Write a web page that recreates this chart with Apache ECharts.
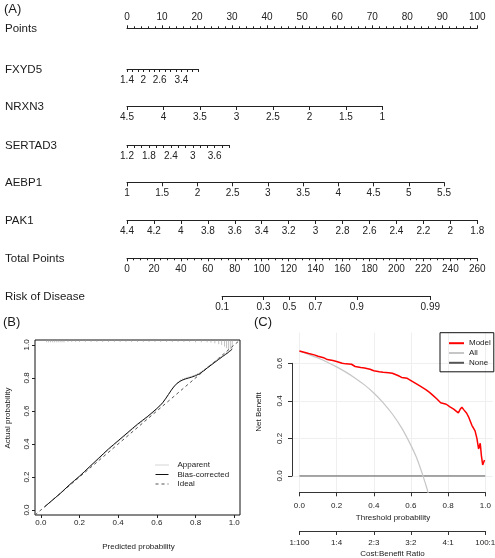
<!DOCTYPE html>
<html><head><meta charset="utf-8">
<script src="https://cdn.jsdelivr.net/npm/echarts@6/dist/echarts.min.js"></script>
<style>html,body{margin:0;padding:0;background:#fff}#c{width:495px;height:558px}</style>
</head><body><div id="c"></div>
<script>
// ---------------- DATA ----------------
// (A) nomogram
const rowNames = ["Points", "FXYD5", "NRXN3", "SERTAD3", "AEBP1", "PAK1", "Total Points", "Risk of Disease"];
const pointsScale = [0, 100];
const fxyd5Values = [1.4, 4.0];
const fxyd5Points = [0, 20.2];
const fxyd5Labels = [1.4, 2, 2.6, 3.4];
const nrxn3Values = [1, 4.5];
const nrxn3Points = [72.9, 0];
const sertad3Values = [1.2, 4.0];
const sertad3Points = [0, 29.2];
const sertad3Labels = [1.2, 1.8, 2.4, 3, 3.6];
const aebp1Values = [1, 5.5];
const aebp1Points = [0, 90.5];
const pak1Values = [1.8, 4.4];
const pak1Points = [100, 0];
const totalPointsScale = [0, 260];
const riskLabels = [0.1, 0.3, 0.5, 0.7, 0.9, 0.99];
const riskTotalPoints = [70.6, 225.1];   // total points where risk = 0.1 and 0.99

// (B) calibration
const calTicks = [0, 0.2, 0.4, 0.6, 0.8, 1.0];
const calX = [0.02, 0.05, 0.1, 0.15, 0.2, 0.25, 0.3, 0.35, 0.4, 0.45, 0.5, 0.55, 0.6, 0.63, 0.66, 0.69, 0.72, 0.75, 0.78, 0.82, 0.86, 0.9, 0.94, 0.97, 0.99];
const biasCorrectedY = [0.02, 0.05, 0.1, 0.155, 0.205, 0.26, 0.315, 0.37, 0.42, 0.47, 0.52, 0.565, 0.615, 0.65, 0.7, 0.75, 0.78, 0.795, 0.805, 0.825, 0.86, 0.895, 0.93, 0.955, 0.975];
const apparentY = [0.02, 0.05, 0.1, 0.152, 0.203, 0.257, 0.31, 0.365, 0.415, 0.465, 0.515, 0.56, 0.61, 0.648, 0.7, 0.752, 0.785, 0.8, 0.81, 0.83, 0.865, 0.9, 0.935, 0.96, 0.98];
const idealEnds = [-0.03, 1.03];
const rugX = [0.03, 0.04, 0.05, 0.06, 0.07, 0.08, 0.09, 0.1, 0.11, 0.12, 0.14, 0.16, 0.18, 0.2, 0.23, 0.26, 0.29, 0.32, 0.35, 0.38, 0.41, 0.44, 0.47, 0.5, 0.53, 0.56, 0.59, 0.62, 0.65, 0.68, 0.71, 0.74, 0.77, 0.8, 0.83, 0.86, 0.88, 0.9, 0.92, 0.935, 0.95, 0.96, 0.97, 0.98, 0.99];
const rugLen = [0.014, 0.014, 0.014, 0.014, 0.014, 0.014, 0.014, 0.014, 0.014, 0.014, 0.012, 0.012, 0.012, 0.012, 0.012, 0.012, 0.012, 0.012, 0.012, 0.012, 0.012, 0.012, 0.012, 0.012, 0.012, 0.012, 0.012, 0.012, 0.012, 0.012, 0.012, 0.012, 0.012, 0.014, 0.014, 0.014, 0.016, 0.02, 0.025, 0.03, 0.04, 0.05, 0.06, 0.055, 0.045];

// (C) decision curve
const modelThreshold = [0, 0.02, 0.05, 0.08, 0.1, 0.13, 0.15, 0.18, 0.2, 0.23, 0.25, 0.28, 0.3, 0.33, 0.35, 0.38, 0.4, 0.43, 0.45, 0.48, 0.5, 0.53, 0.55, 0.58, 0.6, 0.63, 0.65, 0.68, 0.7, 0.72, 0.74, 0.76, 0.77, 0.79, 0.8, 0.81, 0.83, 0.84, 0.855, 0.865, 0.874, 0.885, 0.9, 0.91, 0.92, 0.928, 0.937, 0.945, 0.955, 0.964, 0.973, 0.979, 0.986, 0.996];
const modelNB = [0.665, 0.66, 0.652, 0.645, 0.638, 0.63, 0.62, 0.615, 0.61, 0.6, 0.597, 0.595, 0.583, 0.578, 0.575, 0.568, 0.56, 0.555, 0.552, 0.55, 0.547, 0.535, 0.525, 0.52, 0.508, 0.49, 0.478, 0.46, 0.445, 0.428, 0.41, 0.39, 0.383, 0.382, 0.378, 0.368, 0.356, 0.348, 0.336, 0.355, 0.366, 0.352, 0.334, 0.315, 0.29, 0.27, 0.28, 0.24, 0.2, 0.144, 0.174, 0.11, 0.059, 0.085];
const allThreshold = [0, 0.05, 0.1, 0.15, 0.2, 0.25, 0.3, 0.35, 0.4, 0.45, 0.5, 0.55, 0.6, 0.63, 0.66, 0.68, 0.69, 0.7];
const allNB = [0.665, 0.647, 0.628, 0.606, 0.581, 0.553, 0.521, 0.485, 0.442, 0.391, 0.33, 0.256, 0.163, 0.098, 0.015, -0.047, -0.08, -0.118];
const noneThreshold = [0, 1];
const noneNB = [0, 0];
const costBenefitLabels = ["1:100", "1:4", "2:3", "3:2", "4:1", "100:1"];

// ---------------- LAYOUT / STYLE ----------------
const FONT = 'Liberation Sans, Arial, Helvetica, sans-serif';
const INK = '#222';
const NL = 127, NW = 350.3;                 // pixel extent of Points 0..100
const rowY = [28.3, 69, 106, 145, 182.3, 220, 258.3, 296];
const logit = p => Math.log(p / (1 - p));
const invLogit = v => 1 / (1 + Math.exp(-v));
const zip = (a, b) => a.map((v, i) => [v, b[i]]);

const grids = [], xAxes = [], yAxes = [], series = [];
function addGrid(g, xa, ya) {
  const i = grids.length;
  grids.push(Object.assign({ outerBoundsMode: 'none', containLabel: false, show: false }, g));
  xAxes.push(Object.assign({ gridIndex: i, type: 'value', splitLine: { show: false } }, xa));
  yAxes.push(Object.assign({ gridIndex: i, type: 'value', splitLine: { show: false } }, ya));
  return i;
}
const hidden = { show: false, min: 0, max: 1 };
const lineSt = { color: INK, width: 1 };

function nomoRow(idx, o) {
  const scaleMax = o.scaleMax || 100;
  const p0 = Math.min(o.pts[0], o.pts[1]), p1 = Math.max(o.pts[0], o.pts[1]);
  const left = NL + NW * p0 / scaleMax, width = NW * (p1 - p0) / scaleMax;
  const top = !!o.top;
  const g = { left: left, width: width, top: top ? rowY[idx] : rowY[idx] - 1, height: 1 };
  const xa = {
    min: o.values[0], max: o.values[1], inverse: o.pts[0] > o.pts[1],
    position: top ? 'top' : 'bottom',
    axisLine: { show: true, onZero: false, lineStyle: lineSt },
    axisTick: { show: true, length: o.tickLen || 4, lineStyle: lineSt },
    minorTick: o.minor ? { show: true, splitNumber: o.minor, length: 2, lineStyle: lineSt } : { show: false },
    axisLabel: { show: true, fontSize: 10, fontFamily: FONT, color: INK, margin: 6, hideOverlap: false, showMinLabel: true, showMaxLabel: true }
  };
  if (o.step) xa.interval = o.step;
  if (o.labels) xa.axisLabel.customValues = o.labels;
  if (o.ticks) xa.axisTick.customValues = o.ticks;
  if (o.formatter) xa.axisLabel.formatter = o.formatter;
  addGrid(g, xa, hidden);
}

nomoRow(0, { values: pointsScale, pts: pointsScale, step: 10, minor: 5, tickLen: 3, top: true });
nomoRow(1, { values: fxyd5Values, pts: fxyd5Points, step: 0.2, labels: fxyd5Labels, tickLen: 3 });
nomoRow(2, { values: nrxn3Values, pts: nrxn3Points, step: 0.5, tickLen: 4 });
nomoRow(3, { values: sertad3Values, pts: sertad3Points, step: 0.2, labels: sertad3Labels, tickLen: 3 });
nomoRow(4, { values: aebp1Values, pts: aebp1Points, step: 0.5, tickLen: 4 });
nomoRow(5, { values: pak1Values, pts: pak1Points, step: 0.2, tickLen: 4 });
nomoRow(6, { values: totalPointsScale, pts: totalPointsScale, scaleMax: 260, step: 20, minor: 4, tickLen: 3 });
nomoRow(7, {
  values: [logit(riskLabels[0]), logit(riskLabels[riskLabels.length - 1])],
  pts: riskTotalPoints, scaleMax: 260, tickLen: 4,
  labels: riskLabels.map(logit), ticks: riskLabels.map(logit),
  formatter: v => String(+invLogit(v).toFixed(2))
});

// (B) calibration grid
const B = { left: 35, top: 340, width: 205, height: 175, min: -0.03, max: 1.03 };
const calAxisCommon = {
  min: B.min, max: B.max,
  axisLine: { show: false, onZero: false },
  axisTick: { show: true, customValues: calTicks, length: 3, lineStyle: lineSt },
  axisLabel: { show: true, customValues: calTicks, formatter: v => v.toFixed(1), fontSize: 8, fontFamily: FONT, color: INK, margin: 4 }
};
const gB = addGrid({ left: B.left, top: B.top, width: B.width, height: B.height, show: true, borderColor: '#111', borderWidth: 1, backgroundColor: 'transparent' },
  Object.assign({}, calAxisCommon),
  Object.assign({}, calAxisCommon, { axisLabel: Object.assign({}, calAxisCommon.axisLabel, { rotate: 90, margin: 4 }) }));

series.push({ name: 'Apparent', type: 'line', xAxisIndex: gB, yAxisIndex: gB, data: zip(calX, apparentY), symbol: 'none', showSymbol: false, smooth: 0.3, lineStyle: { color: '#aaa', width: 1, type: 'dotted' }, itemStyle: { color: '#aaa' }, z: 3 });
series.push({ name: 'Bias-corrected', type: 'line', xAxisIndex: gB, yAxisIndex: gB, data: zip(calX, biasCorrectedY), symbol: 'none', showSymbol: false, smooth: 0.3, lineStyle: { color: '#111', width: 1 }, itemStyle: { color: '#111' }, z: 4 });
series.push({ name: 'Ideal', type: 'line', xAxisIndex: gB, yAxisIndex: gB, data: zip(idealEnds, idealEnds), symbol: 'none', showSymbol: false, lineStyle: { color: '#555', width: 1, type: [3, 3] }, itemStyle: { color: '#555' }, z: 2 });
series.push({
  type: 'custom', xAxisIndex: gB, yAxisIndex: gB, data: zip(rugX, rugLen), z: 2, silent: true,
  renderItem: (params, api) => {
    const x = api.value(0), len = api.value(1);
    const a = api.coord([x, B.max]), b = api.coord([x, B.max - len]);
    return { type: 'line', shape: { x1: a[0], y1: a[1], x2: b[0], y2: b[1] }, style: { stroke: '#999', lineWidth: 0.6 } };
  }
});

// (C) decision curve
const C = { left: 292, top: 332.7, width: 200.7, height: 159.6, xmin: -0.04, xmax: 1.04, ymin: -0.087, ymax: 0.763 };
const cx = v => C.left + (v - C.xmin) / (C.xmax - C.xmin) * C.width;
const cy = v => C.top + (C.ymax - v) / (C.ymax - C.ymin) * C.height;
const gC = addGrid({ left: C.left, top: C.top, width: C.width, height: C.height },
  { show: false, min: C.xmin, max: C.xmax }, { show: false, min: C.ymin, max: C.ymax });
const faint = { show: true, lineStyle: { color: '#efefef', width: 1 } };
addGrid({ left: cx(0), width: cx(1) - cx(0), top: C.top, height: C.height },
  { min: 0, max: 1, interval: 0.2, axisLine: { show: false }, axisTick: { show: false }, axisLabel: { show: false }, splitLine: faint }, hidden);
addGrid({ left: C.left, width: C.width, top: cy(0.6), height: cy(0) - cy(0.6) },
  hidden, { min: 0, max: 0.6, interval: 0.2, axisLine: { show: false }, axisTick: { show: false }, axisLabel: { show: false }, splitLine: faint });
const xAxisY = cy(C.ymin);
addGrid({ left: cx(0), width: cx(1) - cx(0), top: xAxisY - 1, height: 1 },
  { min: 0, max: 1, interval: 0.2, position: 'bottom', axisLine: { show: true, onZero: false, lineStyle: { color: '#333', width: 1 } },
    axisTick: { show: true, length: 4, lineStyle: { color: '#333' } },
    axisLabel: { fontSize: 8, fontFamily: FONT, color: INK, margin: 9, formatter: v => v.toFixed(1) } }, hidden);
addGrid({ left: C.left, width: 1, top: cy(0.6), height: cy(0) - cy(0.6) },
  hidden, { min: 0, max: 0.6, interval: 0.2, position: 'left', axisLine: { show: true, onZero: false, lineStyle: { color: '#333', width: 1 } },
    axisTick: { show: true, length: 4, lineStyle: { color: '#333' } },
    axisLabel: { fontSize: 8, fontFamily: FONT, color: INK, margin: 8, rotate: 90, formatter: v => v.toFixed(1) } });
addGrid({ left: cx(0), width: cx(1) - cx(0), top: 530, height: 1 },
  { min: 0, max: 1, interval: 0.2, position: 'bottom', axisLine: { show: true, onZero: false, lineStyle: { color: '#333', width: 1 } },
    axisTick: { show: true, length: 4, lineStyle: { color: '#333' } },
    axisLabel: { fontSize: 8, fontFamily: FONT, color: INK, margin: 8, formatter: v => costBenefitLabels[Math.round(v / 0.2)] } }, hidden);

series.push({ name: 'None', type: 'line', xAxisIndex: gC, yAxisIndex: gC, data: zip(noneThreshold, noneNB), symbol: 'none', showSymbol: false, lineStyle: { color: '#555', width: 1 }, itemStyle: { color: '#555' }, z: 3 });
series.push({ name: 'All', type: 'line', xAxisIndex: gC, yAxisIndex: gC, data: zip(allThreshold, allNB), symbol: 'none', showSymbol: false, smooth: 0.3, lineStyle: { color: '#c6c6c6', width: 1.2 }, itemStyle: { color: '#c6c6c6' }, z: 3 });
series.push({ name: 'Model', type: 'line', xAxisIndex: gC, yAxisIndex: gC, data: zip(modelThreshold, modelNB), symbol: 'none', showSymbol: false, lineStyle: { color: '#ff0000', width: 1.5 }, itemStyle: { color: '#ff0000' }, z: 5 });

// ---------------- TEXT ----------------
function T(text, x, y, size, align, rot) {
  return { type: 'text', x: x, y: y, rotation: rot || 0, silent: true, z: 10,
    style: { text: text, fontSize: size, fontFamily: FONT, fill: '#1a1a1a', align: align || 'left', verticalAlign: 'middle', textAlign: align || 'left', textVerticalAlign: 'middle' } };
}
const texts = [T('(A)', 4, 9, 13)];
rowNames.forEach((n, i) => texts.push(T(n, 5, rowY[i] + 0.5, 11.5)));
texts.push(T('(B)', 3, 322, 13));
texts.push(T('(C)', 254, 322, 13));
texts.push(T('Actual probability', 8, 418, 8, 'center', Math.PI / 2));
texts.push(T('Predicted probability', 138.5, 547, 8, 'center'));
texts.push(T('Net Benefit', 258.5, 412, 8, 'center', Math.PI / 2));
texts.push(T('Threshold probability', 393, 517.5, 8, 'center'));
texts.push(T('Cost:Benefit Ratio', 392.5, 554, 8, 'center'));

const noSymbol = { color: 'rgba(0,0,0,0)', borderColor: 'rgba(0,0,0,0)', borderWidth: 0, opacity: 0 };
const option = {
  backgroundColor: '#fff',
  animation: false,
  grid: grids, xAxis: xAxes, yAxis: yAxes, series: series,
  legend: [
    { data: ['Apparent', 'Bias-corrected', 'Ideal'], orient: 'vertical', left: 155, top: 461, padding: 0, itemGap: 1.5, itemWidth: 13, itemHeight: 8,
      itemStyle: noSymbol, lineStyle: { width: 1 }, textStyle: { fontSize: 8, fontFamily: FONT, color: INK, padding: [0, 0, 0, 4] }, selectedMode: false },
    { data: ['Model', 'All', 'None'], orient: 'vertical', left: 440, top: 332.7, padding: [6.5, 3, 5, 8], itemGap: 1.8, itemWidth: 15, itemHeight: 8,
      itemStyle: noSymbol, borderColor: '#111', borderWidth: 1, textStyle: { fontSize: 8, fontFamily: FONT, color: INK }, selectedMode: false }
  ],
  graphic: { elements: texts }
};
const chart = echarts.init(document.getElementById('c'), null, { renderer: 'canvas' });
chart.setOption(option);
</script></body></html>
